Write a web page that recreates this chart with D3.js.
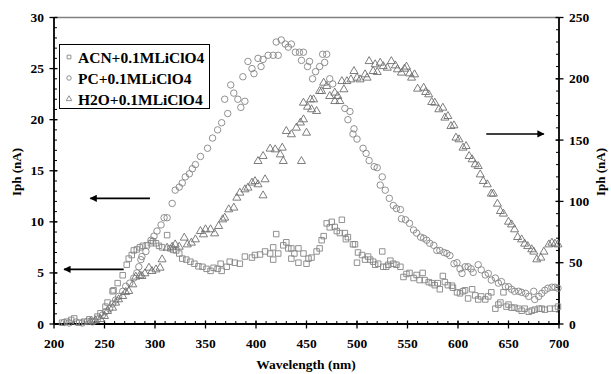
<!DOCTYPE html>
<html>
<head>
<meta charset="utf-8">
<script src="https://cdn.jsdelivr.net/npm/d3@7"></script>
<style>
  body { margin: 0; background: #fff; }
  svg text { font-family: "Liberation Serif", "Times New Roman", serif; font-weight: bold; fill: #000; }
</style>
</head>
<body>
<svg id="chart" width="611" height="374"></svg>
<script>
// values: [wavelength nm, Iph nA]
var acnData = [
  [208,0.13],[213,0.23],[217,0.4],[220,0.55],[225,0.13],[230,0.23],[235,0.46],[239,0.3],[243,0.72],[246,1.05],
  [251,1.7],[253,2.1],[258,3.2],[259,3.3],[263,4.0],[268,4.77],[272,5.8],[274,6.4],[277,6.75],[279,7.2],
  [282,7.3],[285,7.5],[288,7.65],[292,7.7],[296,7.9],[298,8.1],[301,7.9],[304,7.65],[307,7.5],[312,8.7],
  [315,7.4],[318,7.25],[321,7.2],[324,6.9],[327,6.4],[331,6.3],[335,6.1],[339,5.9],[343,5.65],[347,5.6],
  [351,5.4],[355,5.2],[358,5.5],[362,5.4],[365,5.9],[366,5.2],[371,5.6],[374,6.1],[379,6.0],[384,5.9],
  [389,6.6],[396,6.5],[399,6.75],[404,6.8],[409,7.1],[414,6.9],[417,7.5],[417,6.3],[420,8.8],[422,6.9],
  [427,7.7],[430,8.0],[432,7.4],[435,7.4],[435,6.4],[438,6.9],[442,7.4],[442,6.0],[447,6.9],[450,5.9],
  [452,6.4],[455,6.5],[460,7.1],[463,7.4],[465,8.2],[467,8.6],[470,9.85],[473,9.46],[475,10.0],[478,9.5],
  [480,9.1],[483,8.9],[485,10.2],[488,8.9],[489,8.3],[491,8.5],[496,7.8],[498,7.8],[500,6.0],[501,7.0],
  [505,6.75],[508,6.3],[511,6.6],[513,6.3],[516,6.1],[518,5.8],[521,5.9],[525,7.1],[526,5.6],[529,5.6],
  [531,5.8],[533,6.2],[536,5.9],[539,5.8],[543,5.6],[546,4.6],[549,4.9],[552,5.0],[556,4.5],[559,4.8],
  [562,4.3],[565,5.0],[567,4.3],[571,4.1],[574,4.0],[577,3.8],[580,4.0],[582,3.4],[585,4.7],[587,4.1],
  [590,3.8],[594,3.75],[595,3.55],[599,3.1],[602,3.0],[605,3.2],[607,3.3],[610,2.5],[614,3.4],[617,2.8],
  [620,2.4],[623,2.7],[627,2.4],[630,2.7],[633,3.1],[637,1.5],[640,1.9],[642,2.1],[645,3.1],[648,1.7],
  [650,1.9],[653,1.6],[656,1.6],[660,1.5],[663,1.3],[666,1.5],[670,1.2],[673,1.3],[676,1.4],[680,1.5],
  [683,1.5],[686,1.4],[691,1.5],[696,1.5],[699,1.7]
];

var pcData = [
  [210,0.15],[215,0.1],[222,0.2],[228,0.1],[233,0.25],[238,0.2],[243,0.46],[248,0.88],[251,1.2],[255,1.5],
  [258,1.96],[261,2.35],[264,2.7],[268,3.2],[271,3.7],[275,4.0],[279,4.5],[282,5.0],[284,5.6],[286,6.3],
  [287,6.6],[291,7.1],[296,8.2],[299,8.6],[302,9.1],[306,9.7],[309,10.4],[312,10.4],[317,11.8],[320,13.1],
  [324,13.4],[327,13.8],[330,14.4],[334,14.7],[337,15.2],[340,15.6],[345,16.4],[352,17.2],[357,18.2],[362,19.0],
  [366,19.7],[369,22.0],[372,20.6],[375,23.4],[378,22.6],[382,22.0],[385,21.2],[387,24.2],[389,21.8],[392,25.7],
  [396,25.0],[398,24.5],[402,26.0],[405,25.2],[407,25.9],[412,26.3],[417,26.3],[420,27.6],[422,26.3],[425,27.8],
  [429,27.4],[432,27.1],[435,27.4],[439,26.6],[443,26.6],[445,25.8],[447,26.6],[451,25.2],[453,25.7],[456,24.0],
  [459,24.7],[463,25.2],[466,26.4],[468,25.6],[470,26.4],[473,24.0],[476,23.5],[488,21.1],[491,20.0],[493,20.8],
  [496,18.6],[497,19.1],[500,18.1],[506,17.2],[509,16.7],[512,16.0],[517,15.4],[520,15.3],[523,13.6],[525,14.4],
  [528,13.1],[532,12.3],[536,11.6],[539,11.3],[543,11.2],[544,10.3],[548,10.2],[552,9.85],[556,9.2],[559,8.9],
  [563,8.5],[566,8.4],[569,8.2],[572,7.9],[576,7.7],[579,7.2],[582,7.2],[586,7.0],[589,6.9],[592,6.7],
  [596,5.9],[599,6.0],[602,5.4],[604,4.95],[607,5.6],[610,5.6],[613,5.4],[615,5.05],[620,5.8],[623,5.3],
  [627,4.8],[630,4.95],[633,4.3],[637,4.5],[640,4.0],[643,4.15],[647,3.65],[650,3.65],[653,3.4],[656,3.2],
  [660,3.2],[663,3.1],[667,3.0],[670,2.7],[675,3.2],[676,2.4],[680,2.7],[683,3.0],[686,3.3],[689,3.5],
  [693,3.6],[696,3.6],[699,3.5]
];

var h2oData = [
  [236,1.5],[241,2.5],[246,3.5],[250,6.0],[253,10.1],[258,12.8],[261,16.9],[264,19.6],[268,22.3],[271,25.6],
  [274,26.4],[278,31.8],[281,38.1],[285,39.2],[287,38.6],[290,40.8],[294,45.4],[297,42.7],[301,44.0],[305,45.4],
  [307,52.2],[312,61.7],[317,62.5],[320,64.4],[324,62.5],[329,69.9],[332,64.4],[336,65.8],[340,68.5],[345,75.3],
  [348,72.6],[350,76.7],[355,76.7],[359,73.4],[363,79.4],[367,84.8],[369,86.2],[373,93.0],[378,94.4],[381,102.5],
  [384,106.6],[389,109.3],[392,110.7],[396,114.8],[399,116.0],[402,113.4],[407,104.4],[409,117.5],[402,132.4],[407,136.5],
  [414,142.5],[419,141.9],[424,137.8],[426,143.3],[427,132.4],[430,156.9],[435,154.2],[440,159.6],[444,163.8],[445,132.4],
  [447,166.4],[450,155.5],[447,180.0],[451,176.7],[454,182.7],[455,174.6],[457,182.7],[460,173.2],[463,189.5],[465,189.5],
  [467,196.3],[470,193.6],[473,185.4],[478,188.2],[478,181.3],[481,185.4],[483,181.3],[485,197.6],[487,190.9],[490,197.6],
  [494,199.0],[497,205.8],[500,200.4],[503,199.0],[508,203.1],[510,200.4],[512,213.9],[516,205.8],[518,211.3],[520,205.0],
  [523,212.6],[526,209.8],[530,208.5],[534,213.9],[538,210.4],[540,207.2],[544,204.5],[547,207.7],[549,209.4],[552,203.9],
  [554,200.4],[557,203.1],[560,191.4],[566,192.2],[568,188.7],[571,186.8],[574,180.5],[577,180.0],[581,174.6],[585,175.9],
  [587,167.8],[590,169.1],[593,160.9],[596,161.5],[598,151.5],[601,150.1],[605,143.3],[608,144.6],[611,136.5],[614,133.8],
  [617,129.7],[620,128.3],[622,121.5],[625,116.1],[629,113.4],[633,105.8],[635,105.8],[639,97.6],[642,91.6],[645,89.5],
  [650,82.9],[653,80.7],[656,76.7],[659,70.4],[663,68.5],[666,65.0],[669,63.0],[673,60.4],[675,58.5],[678,52.2],
  [682,53.6],[685,58.5],[690,64.4],[693,65.8],[696,65.0],[699,64.4]
];

var seriesNames = ["ACN+0.1MLiClO4", "PC+0.1MLiClO4", "H2O+0.1MLiClO4"];
var xTicks = [200, 250, 300, 350, 400, 450, 500, 550, 600, 650, 700];
var yLeftTicks = [0, 5, 10, 15, 20, 25, 30];
var yRightTicks = [0, 50, 100, 150, 200, 250];
// arrows: [y value on left scale, from x, to x]
var arrows = [[12.3, 295, 236], [5.35, 269, 210], [18.6, 628, 685]];

var svg = d3.select("#chart");
var markColor = "#858585";

var x = d3.scaleLinear().domain([200, 700]).range([54, 559]);
var yL = d3.scaleLinear().domain([0, 30]).range([324, 17.5]);
var yR = d3.scaleLinear().domain([0, 250]).range([324, 17.5]);

// top border
svg.append("line").attr("x1", 54).attr("x2", 559).attr("y1", 17.5).attr("y2", 17.5)
  .attr("stroke", "#808080").attr("stroke-width", 1.5);

// axes with major (cross) and minor (inside) ticks
function minorTicks(lo, hi, step) {
  return d3.range(lo, hi + step / 2, step);
}

var gx = svg.append("g");
gx.selectAll(".minor").data(minorTicks(200, 700, 10)).enter().append("line")
  .attr("x1", d => x(d)).attr("x2", d => x(d)).attr("y1", 324).attr("y2", 321)
  .attr("stroke", "#000").attr("stroke-width", 1);
gx.selectAll(".major").data(xTicks).enter().append("line")
  .attr("x1", d => x(d)).attr("x2", d => x(d)).attr("y1", 320.5).attr("y2", 328.5)
  .attr("stroke", "#000").attr("stroke-width", 1.3);
gx.append("line").attr("x1", 54).attr("x2", 559).attr("y1", 324).attr("y2", 324)
  .attr("stroke", "#000").attr("stroke-width", 1.8);
gx.selectAll("text").data(xTicks).enter().append("text")
  .attr("x", d => x(d)).attr("y", 348).attr("text-anchor", "middle")
  .style("font-size", "13.5px").text(d => d);

var gl = svg.append("g");
gl.selectAll(".minor").data(minorTicks(0, 30, 1)).enter().append("line")
  .attr("x1", 54).attr("x2", 57).attr("y1", d => yL(d)).attr("y2", d => yL(d))
  .attr("stroke", "#000").attr("stroke-width", 1);
gl.selectAll(".major").data(yLeftTicks).enter().append("line")
  .attr("x1", 49.5).attr("x2", 57.5).attr("y1", d => yL(d)).attr("y2", d => yL(d))
  .attr("stroke", "#000").attr("stroke-width", 1.3);
gl.append("line").attr("x1", 54).attr("x2", 54).attr("y1", 17.5).attr("y2", 324)
  .attr("stroke", "#000").attr("stroke-width", 1.8);
gl.selectAll("text").data(yLeftTicks).enter().append("text")
  .attr("x", 44).attr("y", d => yL(d) + 4.5).attr("text-anchor", "end")
  .style("font-size", "13.5px").text(d => d);

var gr = svg.append("g");
gr.selectAll(".minor").data(minorTicks(0, 250, 10)).enter().append("line")
  .attr("x1", 556).attr("x2", 559).attr("y1", d => yR(d)).attr("y2", d => yR(d))
  .attr("stroke", "#000").attr("stroke-width", 1);
gr.selectAll(".major").data(yRightTicks).enter().append("line")
  .attr("x1", 555.5).attr("x2", 563.5).attr("y1", d => yR(d)).attr("y2", d => yR(d))
  .attr("stroke", "#000").attr("stroke-width", 1.3);
gr.append("line").attr("x1", 559).attr("x2", 559).attr("y1", 17.5).attr("y2", 324)
  .attr("stroke", "#000").attr("stroke-width", 1.8);
gr.selectAll("text").data(yRightTicks).enter().append("text")
  .attr("x", 569).attr("y", d => yR(d) + 4.5).attr("text-anchor", "start")
  .style("font-size", "13.5px").text(d => d);

// axis titles
svg.append("text").attr("x", 306).attr("y", 369).attr("text-anchor", "middle")
  .style("font-size", "13.5px").text("Wavelength (nm)");
svg.append("text").attr("transform", "translate(21,172) rotate(-90)").attr("text-anchor", "middle")
  .style("font-size", "13px").text("Iph (nA)");
svg.append("text").attr("transform", "translate(605,172) rotate(-90)").attr("text-anchor", "middle")
  .style("font-size", "13px").text("Iph (nA)");

// markers
var sq = d3.symbol().type(d3.symbolSquare).size(30);
var ci = d3.symbol().type(d3.symbolCircle).size(33);
var tr = d3.symbol().type(d3.symbolTriangle).size(28);

svg.append("g").selectAll("path").data(acnData).enter().append("path")
  .attr("d", sq).attr("transform", d => "translate(" + x(d[0]) + "," + yL(d[1]) + ")")
  .attr("fill", "none").attr("stroke", markColor).attr("stroke-width", 0.9);
svg.append("g").selectAll("path").data(pcData).enter().append("path")
  .attr("d", ci).attr("transform", d => "translate(" + x(d[0]) + "," + yL(d[1]) + ")")
  .attr("fill", "none").attr("stroke", markColor).attr("stroke-width", 0.9);
svg.append("g").selectAll("path").data(h2oData).enter().append("path")
  .attr("d", tr).attr("transform", d => "translate(" + x(d[0]) + "," + (yR(d[1]) - 0.5) + ")")
  .attr("fill", "none").attr("stroke", "#6e6e6e").attr("stroke-width", 0.9);

// arrows
var defs = svg.append("defs");
defs.append("marker").attr("id", "head").attr("viewBox", "0 0 10 10")
  .attr("refX", 9).attr("refY", 5).attr("markerWidth", 5.5).attr("markerHeight", 4.5)
  .attr("orient", "auto").attr("markerUnits", "strokeWidth")
  .append("path").attr("d", "M0,0 L10,5 L0,10 Z").attr("fill", "#000");
svg.append("g").selectAll("line").data(arrows).enter().append("line")
  .attr("x1", d => x(d[1])).attr("x2", d => x(d[2]))
  .attr("y1", d => yL(d[0])).attr("y2", d => yL(d[0]))
  .attr("stroke", "#000").attr("stroke-width", 1.6).attr("marker-end", "url(#head)");

// legend
var lg = svg.append("g");
lg.append("rect").attr("x", 59.5).attr("y", 44.5).attr("width", 150).attr("height", 64)
  .attr("fill", "#fff").attr("stroke", "#000").attr("stroke-width", 1);
var legSym = [
  d3.symbol().type(d3.symbolSquare).size(14),
  d3.symbol().type(d3.symbolCircle).size(16),
  d3.symbol().type(d3.symbolTriangle).size(14)
];
seriesNames.forEach(function (name, i) {
  var yy = 57 + i * 21;
  lg.append("path").attr("d", legSym[i]).attr("transform", "translate(69," + yy + ")")
    .attr("fill", "none").attr("stroke", markColor).attr("stroke-width", 0.9);
  lg.append("text").attr("x", 78).attr("y", yy + 5.5).style("font-size", "15.5px").text(name);
});
</script>
</body>
</html>
